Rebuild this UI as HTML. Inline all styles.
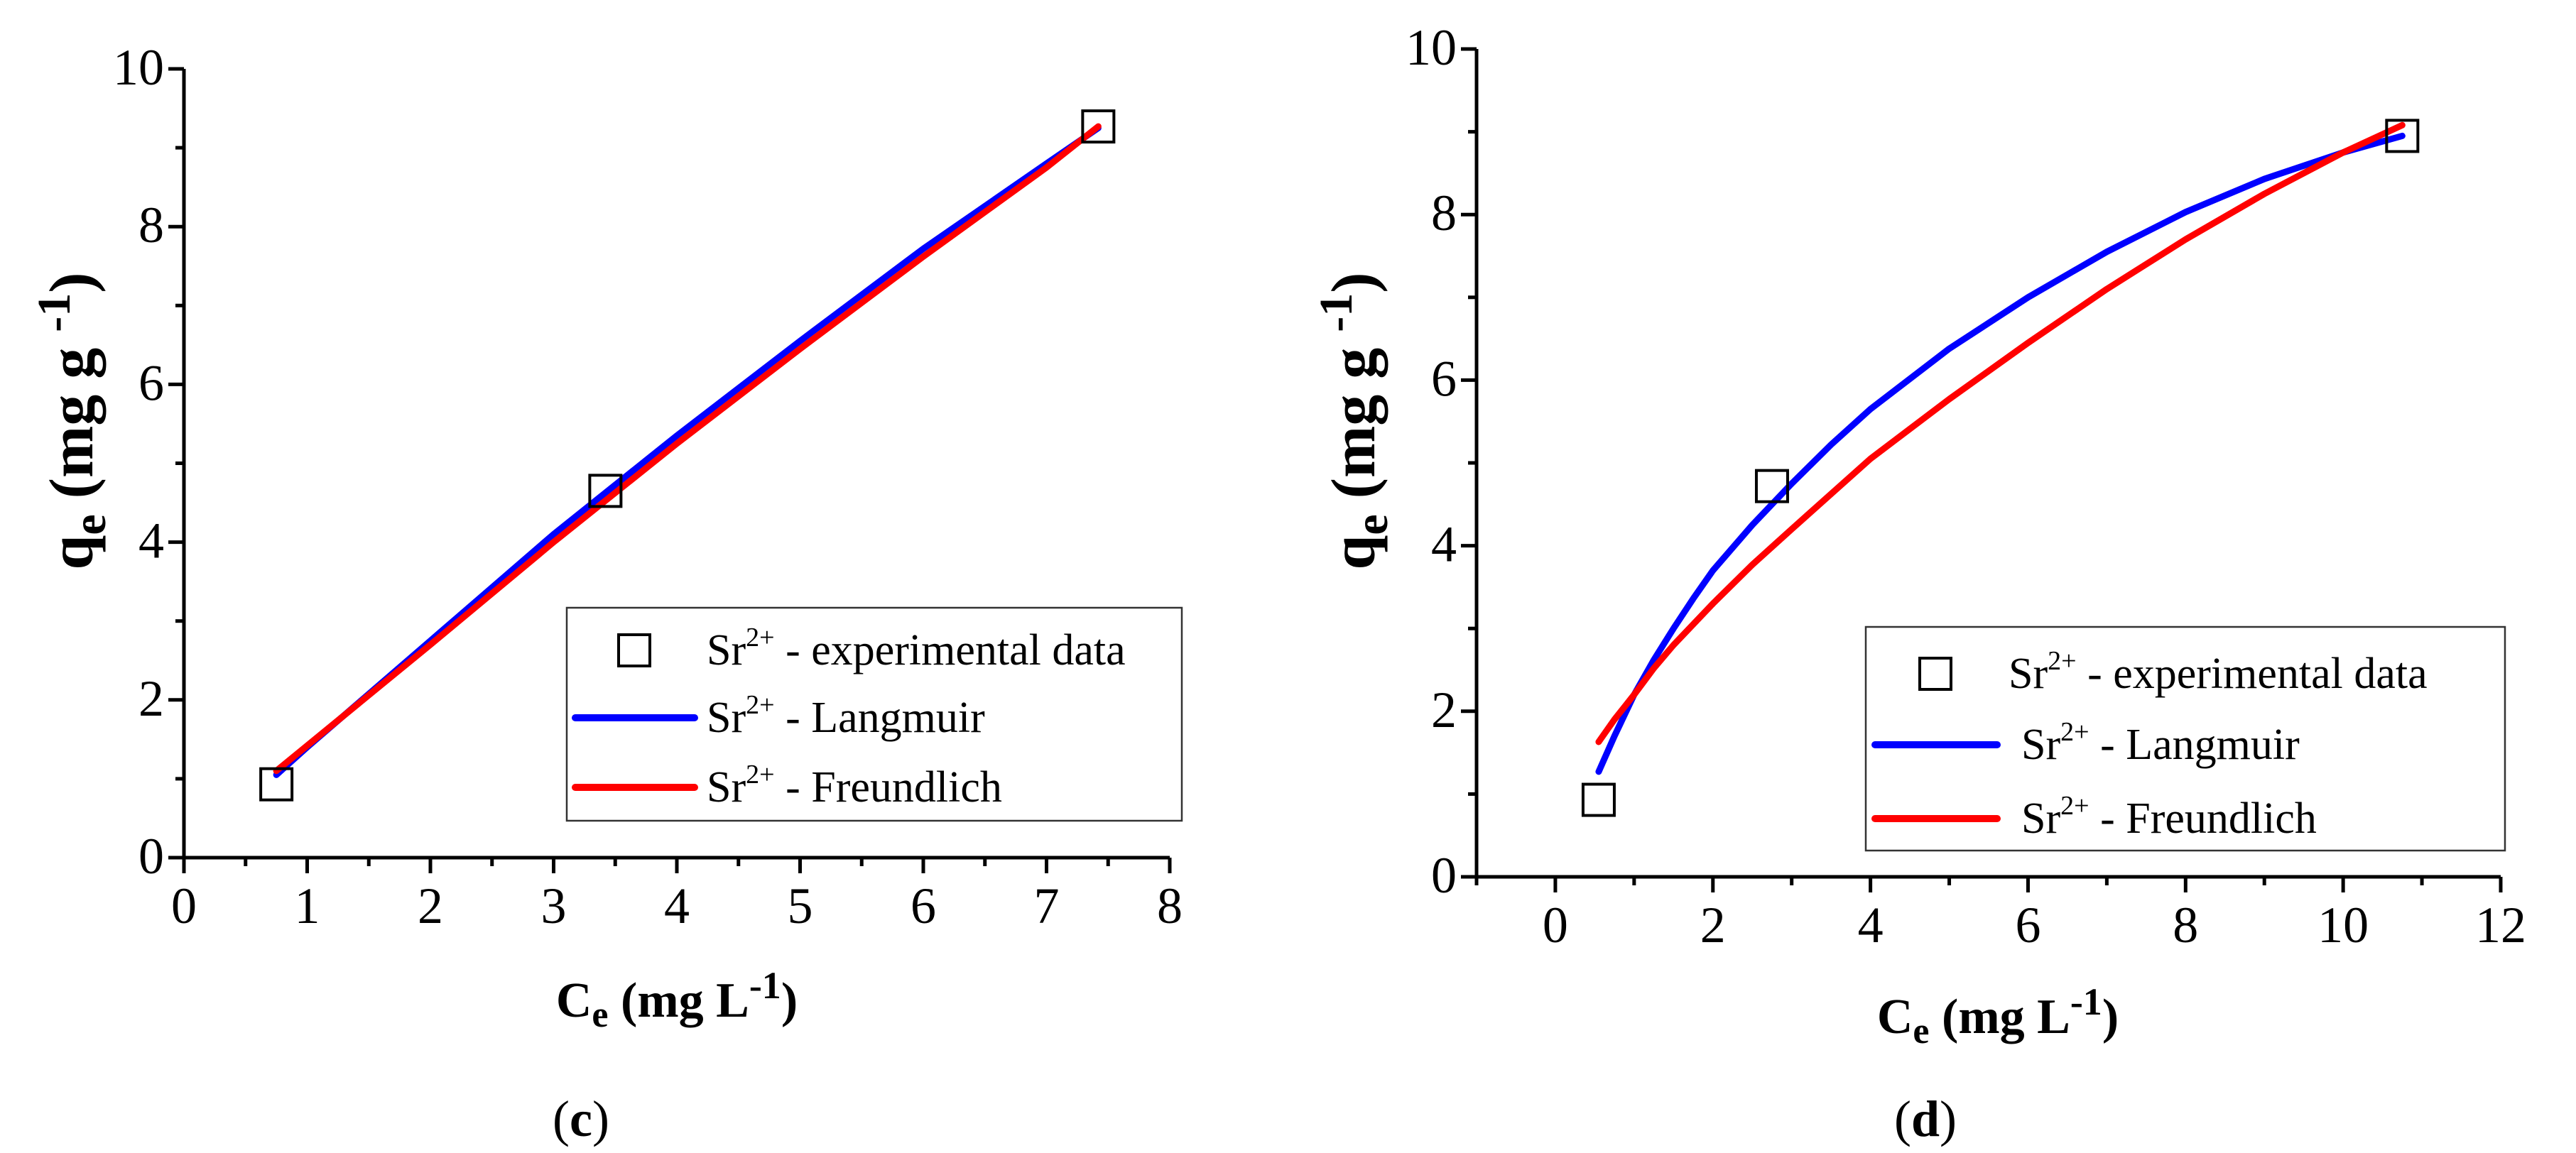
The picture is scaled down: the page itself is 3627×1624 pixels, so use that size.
<!DOCTYPE html>
<html><head><meta charset="utf-8"><style>
html,body{margin:0;padding:0;background:#fff}
svg{display:block}
text{font-family:"Liberation Serif",serif;fill:#000}
</style></head><body>
<svg id="s" width="3627" height="1624" xmlns="http://www.w3.org/2000/svg"></svg>
<script>
// Panel (c)
const cPointsX=[0.75,3.42,7.42];
const cPointsY=[0.93,4.65,9.27];
const cLangX=[0.75,1,2,3,4,5,6,7,7.42];
const cLangY=[1.05,1.4,2.75,4.1,5.35,6.55,7.72,8.8,9.25];
const cFreuX=[0.75,1,2,3,4,5,6,7,7.42];
const cFreuY=[1.1,1.42,2.7,4.0,5.25,6.45,7.62,8.75,9.27];
const cXTicks=[0,1,2,3,4,5,6,7,8];
const cYTicks=[0,2,4,6,8,10];
// Panel (d)
const dPointsX=[0.55,2.75,10.75];
const dPointsY=[0.93,4.72,8.95];
const dLangX=[0.55,0.75,1,1.25,1.5,1.75,2,2.5,3,3.5,4,5,6,7,8,9,10,10.75];
const dLangY=[1.27,1.7,2.2,2.62,3.0,3.36,3.7,4.25,4.75,5.22,5.65,6.38,7.0,7.55,8.03,8.43,8.75,8.95];
const dFreuX=[0.55,0.75,1,1.25,1.5,2,2.5,3,4,5,6,7,8,9,10,10.75];
const dFreuY=[1.63,1.9,2.2,2.52,2.8,3.3,3.77,4.2,5.05,5.77,6.45,7.1,7.7,8.25,8.75,9.08];
const dXTicks=[0,2,4,6,8,10,12];
const dYTicks=[0,2,4,6,8,10];

const NS="http://www.w3.org/2000/svg";
const svg=document.getElementById('s');
function mk(tag,attrs,parent){const e=document.createElementNS(NS,tag);for(const k in attrs)e.setAttribute(k,attrs[k]);(parent||svg).appendChild(e);return e;}

function panel(o){
  const g=mk('g',{});
  
  
  const sx=v=>o.x0+(v-o.xmin)/(o.xmax-o.xmin)*(o.x1-o.x0);
  const sy=v=>o.y0-(v-o.ymin)/(o.ymax-o.ymin)*(o.y0-o.y1);
  const ax=mk('path',{d:`M${o.x0} ${o.y1}V${o.y0}H${o.x1}`,stroke:'#000','stroke-width':5,fill:'none'},g);
  
  
  for(let v=o.xmin;v<=o.xmax+1e-9;v+=o.xminor){
    const major=o.xTicks.some(t=>Math.abs(t-v)<1e-9);
    mk('line',{x1:sx(v),x2:sx(v),y1:o.y0,y2:o.y0+(major?22:12),stroke:'#000','stroke-width':5},g);
  }
  o.xTicks.forEach(t=>{
    const tx=mk('text',{x:sx(t),y:o.y0+92,'font-size':72,'text-anchor':'middle'},g);
    tx.textContent=t;
    
    
  });
  for(let v=o.ymin;v<=o.ymax+1e-9;v+=1){
    const major=o.yTicks.some(t=>Math.abs(t-v)<1e-9);
    mk('line',{x1:o.x0-(major?22:12),x2:o.x0,y1:sy(v),y2:sy(v),stroke:'#000','stroke-width':5},g);
  }
  o.yTicks.forEach(t=>{
    const tx=mk('text',{x:o.x0-28,y:sy(t)+22,'font-size':72,'text-anchor':'end'},g);
    tx.textContent=t;
    
    
  });
  const line=(xs,ys,col,nm)=>{
    const p=mk('polyline',{points:xs.map((x,i)=>sx(x)+','+sy(ys[i])).join(' '),fill:'none',stroke:col,'stroke-width':9,'stroke-linecap':'round','stroke-linejoin':'round'},g);
    
    
  };
  line(o.lx,o.ly,'#0000ff','langmuir-curve');
  line(o.fx,o.fy,'#ff0000','freundlich-curve');
  o.px.forEach((x,i)=>{
    const r=mk('rect',{x:sx(x)-22,y:sy(o.py[i])-22,width:44,height:44,fill:'none',stroke:'#000','stroke-width':4},g);
    
    
  });
  const L=o.leg;
  const lg=mk('g',{},g);
  
  
  mk('rect',{x:L.x,y:L.y,width:L.w,height:L.h,fill:'#fff',stroke:'#333','stroke-width':2.5},lg);
  mk('rect',{x:L.sq-22,y:L.r[0]-22,width:44,height:44,fill:'none',stroke:'#000','stroke-width':4},lg);
  mk('line',{x1:L.l0,x2:L.l1,y1:L.r[1],y2:L.r[1],stroke:'#0000ff','stroke-width':10,'stroke-linecap':'round'},lg);
  mk('line',{x1:L.l0,x2:L.l1,y1:L.r[2],y2:L.r[2],stroke:'#ff0000','stroke-width':10,'stroke-linecap':'round'},lg);
  const labs=[' - experimental data',' - Langmuir',' - Freundlich'];
  labs.forEach((s,i)=>{
    const t=mk('text',{x:i==0?L.t0:L.t1,y:L.r[i]+20,'font-size':62},lg);
    t.innerHTML=`Sr<tspan dy="-26" font-size="38">2+</tspan><tspan dy="26">${s}</tspan>`;
    
    
  });
  const xt=mk('text',{x:o.xt[0],y:o.xt[1],'font-size':70,'font-weight':'bold','text-anchor':'middle'},g);
  xt.innerHTML='C<tspan dy="14" font-size="52">e</tspan><tspan dy="-14"> (mg L</tspan><tspan dy="-26" font-size="54">-1</tspan><tspan dy="26">)</tspan>';
  
  
  const yt=mk('text',{x:0,y:0,'font-size':88,'font-weight':'bold','text-anchor':'middle',transform:`translate(${o.yt[0]},${o.yt[1]}) rotate(-90)`},g);
  yt.innerHTML='q<tspan dy="18" font-size="66">e</tspan><tspan dy="-18"> (mg g </tspan><tspan dy="-32" font-size="66">-1</tspan><tspan dy="32">)</tspan>';
  
  
  const cap=mk('text',{x:o.cap[0],y:o.cap[1],'font-size':72,'text-anchor':'middle'},g);
  cap.innerHTML=`(<tspan font-weight="bold">${o.capL}</tspan>)`;
  
  
}

panel({name:'panel-c',x0:259,x1:1647,xmin:0,xmax:8,xminor:0.5,y0:1208,y1:97,ymin:0,ymax:10,
  xTicks:cXTicks,yTicks:cYTicks,px:cPointsX,py:cPointsY,lx:cLangX,ly:cLangY,fx:cFreuX,fy:cFreuY,
  leg:{x:798,y:856,w:866,h:300,r:[916,1011,1109],sq:893,l0:810,l1:978,t0:995,t1:995},
  xt:[953,1432],yt:[130,593],cap:[818,1600],capL:'c'});
panel({name:'panel-d',x0:2079,x1:3521,xmin:-1,xmax:12,xminor:1,y0:1235,y1:69,ymin:0,ymax:10,
  xTicks:dXTicks,yTicks:dYTicks,px:dPointsX,py:dPointsY,lx:dLangX,ly:dLangY,fx:dFreuX,fy:dFreuY,
  leg:{x:2627,y:883,w:900,h:315,r:[949,1049,1153],sq:2725,l0:2640,l1:2812,t0:2828,t1:2846},
  xt:[2813,1455],yt:[1935,593],cap:[2711,1600],capL:'d'});
</script>
</body></html>
